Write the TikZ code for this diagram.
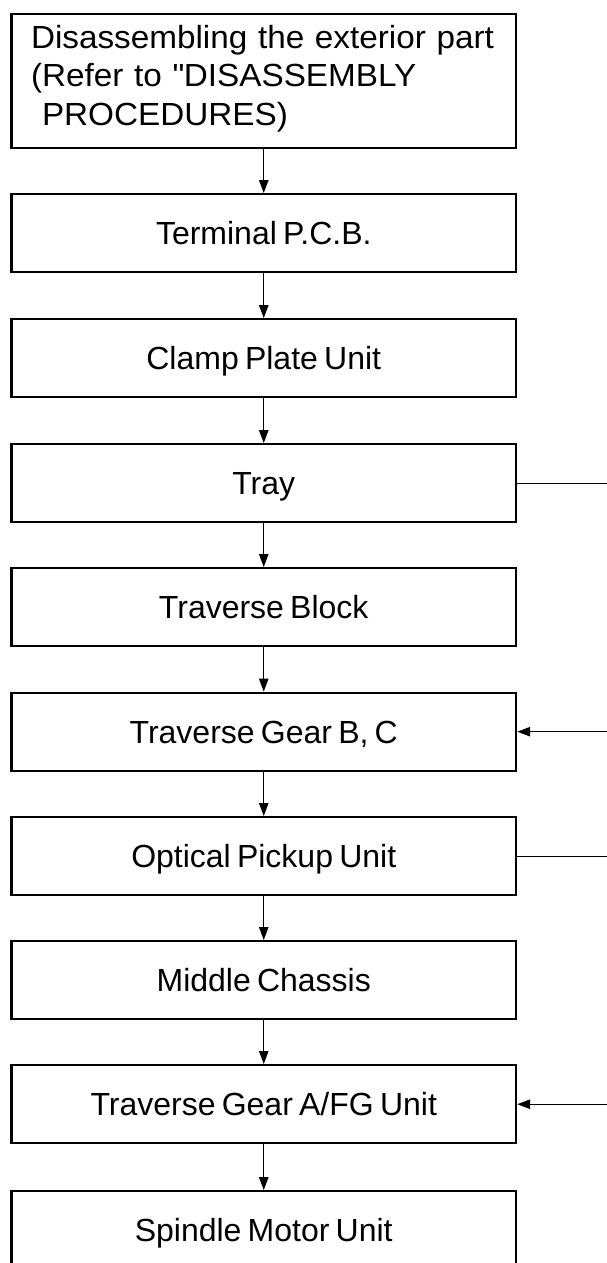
\documentclass[tikz,border=0pt]{standalone}
\usepackage{fontspec}
\setmainfont{Liberation Sans}
\newfontfamily\boxfont[WordSpace=0.7]{Liberation Sans}
\newfontfamily\firstfont[FakeStretch=1.04]{Liberation Sans}
\usetikzlibrary{arrows.meta}
\begin{document}
\begin{tikzpicture}[x=1pt,y=-1pt,
  stepbox/.style={draw, line width=2.4pt, minimum width=504.5pt, minimum height=78pt,
    inner sep=0pt, font=\boxfont\fontsize{32}{38.5}\selectfont,
    text height=23pt, text depth=0pt, anchor=north},
  firstbox/.style={draw, line width=2.4pt, minimum width=504.5pt, minimum height=134.3pt,
    inner xsep=19.5pt, inner ysep=0pt, text width=465.5pt, align=left,
    font=\firstfont\fontsize{32}{38.5}\selectfont,
    text height=23pt, text depth=88.7pt, anchor=north},
  flow/.style={line width=1.1pt, -{Triangle[length=13pt,width=9.5pt]}},
  side/.style={line width=1.1pt}]
\useasboundingbox (0,0) rectangle (607,1263);
\coordinate (edge) at (607,0);

\node[firstbox] (b1) at (263.75,12.7) {Disassembling the exterior part\\(Refer to \textquotedbl DISASSEMBLY\\\hspace*{11pt}PROCEDURES)};
\node[stepbox] (b2) at (263.75,193) {Terminal P.C.B.};
\node[stepbox] (b3) at (263.75,318) {Clamp Plate Unit};
\node[stepbox] (b4) at (263.75,443) {Tray};
\node[stepbox] (b5) at (263.75,567) {Traverse Block};
\node[stepbox] (b6) at (263.75,691.5) {Traverse Gear B, C};
\node[stepbox] (b7) at (263.75,816) {Optical Pickup Unit};
\node[stepbox] (b8) at (263.75,940) {Middle Chassis};
\node[stepbox] (b9) at (263.75,1064) {Traverse Gear A/FG Unit};
\node[stepbox] (b10) at (263.75,1190) {Spindle Motor Unit};

\foreach \a/\b in {b1/b2,b2/b3,b3/b4,b4/b5,b5/b6,b6/b7,b7/b8,b8/b9,b9/b10}
  \draw[flow] (\a.south) -- (\b.north);

\draw[side] (b4.east) -- (b4.east -| edge);
\draw[flow] (b6.east -| edge) -- (b6.east);
\draw[side] (b7.east) -- (b7.east -| edge);
\draw[flow] (b9.east -| edge) -- (b9.east);
\end{tikzpicture}
\end{document}
